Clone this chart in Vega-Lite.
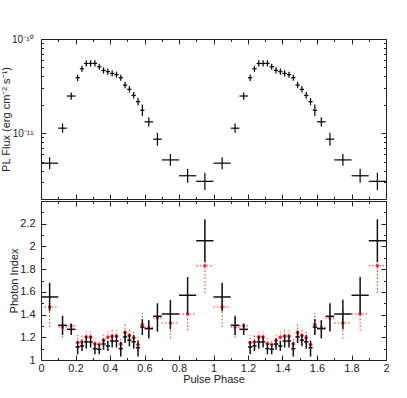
{
  "$schema": "https://vega.github.io/schema/vega-lite/v6.json",
  "padding": {"left": 0, "top": 33, "right": 20, "bottom": 0},
  "spacing": 0,
  "config": {
    "font": "Liberation Sans",
    "view": {"stroke": "#222", "strokeWidth": 1},
    "axis": {"domain": false, "grid": false, "tickColor": "#222", "labelColor": "#222", "labelFontSize": 11, "titleFontSize": 11, "titleFontWeight": "normal", "titleColor": "#222", "tickWidth": 1}
  },
  "datasets": {
    "bins": [
      {"p":0.05,"pl":0,"ph":0.1,"f":4.8e-12,"fl":4.15e-12,"fh":5.55e-12,"k":1.555,"kl":1.43,"kh":1.68,"r":1.467,"rl":1.29,"rh":1.62},
      {"p":0.125,"pl":0.1,"ph":0.15,"f":1.13e-11,"fl":1.01e-11,"fh":1.27e-11,"k":1.306,"kl":1.22,"kh":1.39,"r":1.29,"rl":1.2,"rh":1.38},
      {"p":0.175,"pl":0.15,"ph":0.2,"f":2.48e-11,"fl":2.27e-11,"fh":2.71e-11,"k":1.27,"kl":1.22,"kh":1.32,"r":1.3,"rl":1.25,"rh":1.34},
      {"p":0.2125,"pl":0.2,"ph":0.225,"f":3.88e-11,"fl":3.58e-11,"fh":4.2e-11,"k":1.115,"kl":1.05,"kh":1.17,"r":1.153,"rl":1.09,"rh":1.22},
      {"p":0.2375,"pl":0.225,"ph":0.25,"f":4.83e-11,"fl":4.48e-11,"fh":5.2e-11,"k":1.124,"kl":1.08,"kh":1.17,"r":1.16,"rl":1.11,"rh":1.22},
      {"p":0.2625,"pl":0.25,"ph":0.275,"f":5.5e-11,"fl":5.1e-11,"fh":5.93e-11,"k":1.159,"kl":1.1,"kh":1.21,"r":1.203,"rl":1.15,"rh":1.25},
      {"p":0.2875,"pl":0.275,"ph":0.3,"f":5.5e-11,"fl":5.1e-11,"fh":5.93e-11,"k":1.159,"kl":1.11,"kh":1.21,"r":1.203,"rl":1.15,"rh":1.25},
      {"p":0.3125,"pl":0.3,"ph":0.325,"f":5.52e-11,"fl":5.12e-11,"fh":5.95e-11,"k":1.1,"kl":1.05,"kh":1.15,"r":1.144,"rl":1.09,"rh":1.19},
      {"p":0.3375,"pl":0.325,"ph":0.35,"f":5.08e-11,"fl":4.71e-11,"fh":5.47e-11,"k":1.094,"kl":1.05,"kh":1.14,"r":1.136,"rl":1.09,"rh":1.18},
      {"p":0.3625,"pl":0.35,"ph":0.375,"f":4.64e-11,"fl":4.3e-11,"fh":5.0e-11,"k":1.141,"kl":1.09,"kh":1.19,"r":1.173,"rl":1.12,"rh":1.22},
      {"p":0.3875,"pl":0.375,"ph":0.4,"f":4.5e-11,"fl":4.17e-11,"fh":4.85e-11,"k":1.124,"kl":1.08,"kh":1.17,"r":1.2,"rl":1.15,"rh":1.25},
      {"p":0.4125,"pl":0.4,"ph":0.425,"f":4.31e-11,"fl":4.0e-11,"fh":4.65e-11,"k":1.167,"kl":1.11,"kh":1.22,"r":1.21,"rl":1.16,"rh":1.28},
      {"p":0.4375,"pl":0.425,"ph":0.45,"f":4.18e-11,"fl":3.88e-11,"fh":4.5e-11,"k":1.167,"kl":1.11,"kh":1.22,"r":1.21,"rl":1.16,"rh":1.26},
      {"p":0.4625,"pl":0.45,"ph":0.475,"f":3.88e-11,"fl":3.6e-11,"fh":4.18e-11,"k":1.1,"kl":1.03,"kh":1.16,"r":1.14,"rl":1.08,"rh":1.2},
      {"p":0.4875,"pl":0.475,"ph":0.5,"f":3.24e-11,"fl":3.0e-11,"fh":3.5e-11,"k":1.203,"kl":1.15,"kh":1.26,"r":1.24,"rl":1.18,"rh":1.33},
      {"p":0.5125,"pl":0.5,"ph":0.525,"f":2.92e-11,"fl":2.7e-11,"fh":3.16e-11,"k":1.175,"kl":1.12,"kh":1.23,"r":1.215,"rl":1.16,"rh":1.27},
      {"p":0.5375,"pl":0.525,"ph":0.55,"f":2.52e-11,"fl":2.33e-11,"fh":2.73e-11,"k":1.16,"kl":1.1,"kh":1.22,"r":1.195,"rl":1.14,"rh":1.25},
      {"p":0.5625,"pl":0.55,"ph":0.575,"f":2.16e-11,"fl":1.98e-11,"fh":2.36e-11,"k":1.108,"kl":1.03,"kh":1.17,"r":1.135,"rl":1.07,"rh":1.2},
      {"p":0.5875,"pl":0.575,"ph":0.6,"f":1.75e-11,"fl":1.52e-11,"fh":2.01e-11,"k":1.29,"kl":1.22,"kh":1.36,"r":1.31,"rl":1.22,"rh":1.41},
      {"p":0.625,"pl":0.6,"ph":0.65,"f":1.32e-11,"fl":1.18e-11,"fh":1.48e-11,"k":1.276,"kl":1.19,"kh":1.35,"r":1.285,"rl":1.21,"rh":1.36},
      {"p":0.675,"pl":0.65,"ph":0.7,"f":8.64e-12,"fl":7.35e-12,"fh":1.01e-11,"k":1.385,"kl":1.25,"kh":1.5,"r":1.37,"rl":1.26,"rh":1.48},
      {"p":0.75,"pl":0.7,"ph":0.8,"f":5.2e-12,"fl":4.5e-12,"fh":6.0e-12,"k":1.405,"kl":1.27,"kh":1.53,"r":1.326,"rl":1.19,"rh":1.45},
      {"p":0.85,"pl":0.8,"ph":0.9,"f":3.53e-12,"fl":2.98e-12,"fh":4.18e-12,"k":1.57,"kl":1.41,"kh":1.73,"r":1.405,"rl":1.26,"rh":1.55},
      {"p":0.95,"pl":0.9,"ph":1.0,"f":3.08e-12,"fl":2.49e-12,"fh":3.8e-12,"k":2.05,"kl":1.86,"kh":2.24,"r":1.83,"rl":1.59,"rh":2.05},
      {"p":1.05,"pl":1.0,"ph":1.1,"f":4.8e-12,"fl":4.15e-12,"fh":5.55e-12,"k":1.555,"kl":1.43,"kh":1.68,"r":1.467,"rl":1.29,"rh":1.62},
      {"p":1.125,"pl":1.1,"ph":1.15,"f":1.13e-11,"fl":1.01e-11,"fh":1.27e-11,"k":1.306,"kl":1.22,"kh":1.39,"r":1.29,"rl":1.2,"rh":1.38},
      {"p":1.175,"pl":1.15,"ph":1.2,"f":2.48e-11,"fl":2.27e-11,"fh":2.71e-11,"k":1.27,"kl":1.22,"kh":1.32,"r":1.3,"rl":1.25,"rh":1.34},
      {"p":1.2125,"pl":1.2,"ph":1.225,"f":3.88e-11,"fl":3.58e-11,"fh":4.2e-11,"k":1.115,"kl":1.05,"kh":1.17,"r":1.153,"rl":1.09,"rh":1.22},
      {"p":1.2375,"pl":1.225,"ph":1.25,"f":4.83e-11,"fl":4.48e-11,"fh":5.2e-11,"k":1.124,"kl":1.08,"kh":1.17,"r":1.16,"rl":1.11,"rh":1.22},
      {"p":1.2625,"pl":1.25,"ph":1.275,"f":5.5e-11,"fl":5.1e-11,"fh":5.93e-11,"k":1.159,"kl":1.1,"kh":1.21,"r":1.203,"rl":1.15,"rh":1.25},
      {"p":1.2875,"pl":1.275,"ph":1.3,"f":5.5e-11,"fl":5.1e-11,"fh":5.93e-11,"k":1.159,"kl":1.11,"kh":1.21,"r":1.203,"rl":1.15,"rh":1.25},
      {"p":1.3125,"pl":1.3,"ph":1.325,"f":5.52e-11,"fl":5.12e-11,"fh":5.95e-11,"k":1.1,"kl":1.05,"kh":1.15,"r":1.144,"rl":1.09,"rh":1.19},
      {"p":1.3375,"pl":1.325,"ph":1.35,"f":5.08e-11,"fl":4.71e-11,"fh":5.47e-11,"k":1.094,"kl":1.05,"kh":1.14,"r":1.136,"rl":1.09,"rh":1.18},
      {"p":1.3625,"pl":1.35,"ph":1.375,"f":4.64e-11,"fl":4.3e-11,"fh":5.0e-11,"k":1.141,"kl":1.09,"kh":1.19,"r":1.173,"rl":1.12,"rh":1.22},
      {"p":1.3875,"pl":1.375,"ph":1.4,"f":4.5e-11,"fl":4.17e-11,"fh":4.85e-11,"k":1.124,"kl":1.08,"kh":1.17,"r":1.2,"rl":1.15,"rh":1.25},
      {"p":1.4125,"pl":1.4,"ph":1.425,"f":4.31e-11,"fl":4.0e-11,"fh":4.65e-11,"k":1.167,"kl":1.11,"kh":1.22,"r":1.21,"rl":1.16,"rh":1.28},
      {"p":1.4375,"pl":1.425,"ph":1.45,"f":4.18e-11,"fl":3.88e-11,"fh":4.5e-11,"k":1.167,"kl":1.11,"kh":1.22,"r":1.21,"rl":1.16,"rh":1.26},
      {"p":1.4625,"pl":1.45,"ph":1.475,"f":3.88e-11,"fl":3.6e-11,"fh":4.18e-11,"k":1.1,"kl":1.03,"kh":1.16,"r":1.14,"rl":1.08,"rh":1.2},
      {"p":1.4875,"pl":1.475,"ph":1.5,"f":3.24e-11,"fl":3.0e-11,"fh":3.5e-11,"k":1.203,"kl":1.15,"kh":1.26,"r":1.24,"rl":1.18,"rh":1.33},
      {"p":1.5125,"pl":1.5,"ph":1.525,"f":2.92e-11,"fl":2.7e-11,"fh":3.16e-11,"k":1.175,"kl":1.12,"kh":1.23,"r":1.215,"rl":1.16,"rh":1.27},
      {"p":1.5375,"pl":1.525,"ph":1.55,"f":2.52e-11,"fl":2.33e-11,"fh":2.73e-11,"k":1.16,"kl":1.1,"kh":1.22,"r":1.195,"rl":1.14,"rh":1.25},
      {"p":1.5625,"pl":1.55,"ph":1.575,"f":2.16e-11,"fl":1.98e-11,"fh":2.36e-11,"k":1.108,"kl":1.03,"kh":1.17,"r":1.135,"rl":1.07,"rh":1.2},
      {"p":1.5875,"pl":1.575,"ph":1.6,"f":1.75e-11,"fl":1.52e-11,"fh":2.01e-11,"k":1.29,"kl":1.22,"kh":1.36,"r":1.31,"rl":1.22,"rh":1.41},
      {"p":1.625,"pl":1.6,"ph":1.65,"f":1.32e-11,"fl":1.18e-11,"fh":1.48e-11,"k":1.276,"kl":1.19,"kh":1.35,"r":1.285,"rl":1.21,"rh":1.36},
      {"p":1.675,"pl":1.65,"ph":1.7,"f":8.64e-12,"fl":7.35e-12,"fh":1.01e-11,"k":1.385,"kl":1.25,"kh":1.5,"r":1.37,"rl":1.26,"rh":1.48},
      {"p":1.75,"pl":1.7,"ph":1.8,"f":5.2e-12,"fl":4.5e-12,"fh":6.0e-12,"k":1.405,"kl":1.27,"kh":1.53,"r":1.326,"rl":1.19,"rh":1.45},
      {"p":1.85,"pl":1.8,"ph":1.9,"f":3.53e-12,"fl":2.98e-12,"fh":4.18e-12,"k":1.57,"kl":1.41,"kh":1.73,"r":1.405,"rl":1.26,"rh":1.55},
      {"p":1.95,"pl":1.9,"ph":2.0,"f":3.08e-12,"fl":2.49e-12,"fh":3.8e-12,"k":2.05,"kl":1.86,"kh":2.24,"r":1.83,"rl":1.59,"rh":2.05}
    ]
  },
  "vconcat": [
    {
      "width": 345,
      "height": 160,
      "data": {"name": "bins"},
      "layer": [
        {
          "mark": {"type": "rule", "color": "#000", "strokeWidth": 1.2},
          "encoding": {
            "x": {"field": "p", "type": "quantitative", "scale": {"domain": [0, 2], "nice": false, "zero": false},
                  "axis": {"orient": "bottom", "values": [0,0.2,0.4,0.6,0.8,1,1.2,1.4,1.6,1.8,2], "tickSize": -5, "labels": false, "title": null}},
            "y": {"field": "fl", "type": "quantitative", "scale": {"type": "log", "domain": [2e-12, 1e-10], "nice": false},
                  "axis": {"orient": "left", "values": [1e-11, 1e-10], "tickSize": -5, "labelPadding": 13, "labelFontSize": 10, "labelExpr": "datum.value > 5e-11 ? '10⁻¹⁰' : '10⁻¹¹'", "title": "PL Flux (erg cm⁻² s⁻¹)", "titlePadding": 0}},
            "y2": {"field": "fh"}
          }
        },
        {
          "mark": {"type": "rule", "color": "#000", "strokeWidth": 1.2},
          "encoding": {
            "x": {"field": "pl", "type": "quantitative", "scale": {"domain": [0, 2], "nice": false, "zero": false},
                  "axis": {"orient": "top", "values": [0,0.2,0.4,0.6,0.8,1,1.2,1.4,1.6,1.8,2], "tickSize": -5, "labels": false, "title": null}},
            "x2": {"field": "ph"},
            "y": {"field": "f", "type": "quantitative", "scale": {"type": "log", "domain": [2e-12, 1e-10], "nice": false},
                  "axis": {"orient": "right", "values": [1e-11, 1e-10], "tickSize": -5, "labels": false, "title": null}}
          }
        },
        {
          "mark": {"type": "point", "opacity": 0},
          "encoding": {
            "x": {"field": "p", "type": "quantitative", "scale": {"domain": [0, 2], "nice": false, "zero": false},
                  "axis": {"orient": "bottom", "values": [0.1,0.3,0.5,0.7,0.9,1.1,1.3,1.5,1.7,1.9], "tickSize": -2.5, "labels": false, "title": null}},
            "y": {"field": "f", "type": "quantitative", "scale": {"type": "log", "domain": [2e-12, 1e-10], "nice": false},
                  "axis": {"orient": "left", "values": [3e-12,4e-12,5e-12,6e-12,7e-12,8e-12,9e-12,2e-11,3e-11,4e-11,5e-11,6e-11,7e-11,8e-11,9e-11], "tickSize": -2.5, "labels": false, "title": null}}
          }
        },
        {
          "mark": {"type": "point", "opacity": 0},
          "encoding": {
            "x": {"field": "p", "type": "quantitative", "scale": {"domain": [0, 2], "nice": false, "zero": false},
                  "axis": {"orient": "top", "values": [0.1,0.3,0.5,0.7,0.9,1.1,1.3,1.5,1.7,1.9], "tickSize": -2.5, "labels": false, "title": null}},
            "y": {"field": "f", "type": "quantitative", "scale": {"type": "log", "domain": [2e-12, 1e-10], "nice": false},
                  "axis": {"orient": "right", "values": [3e-12,4e-12,5e-12,6e-12,7e-12,8e-12,9e-12,2e-11,3e-11,4e-11,5e-11,6e-11,7e-11,8e-11,9e-11], "tickSize": -2.5, "labels": false, "title": null}}
          }
        }
      ],
      "resolve": {"axis": {"x": "independent", "y": "independent"}}
    },
    {
      "width": 345,
      "height": 159,
      "data": {"name": "bins"},
      "layer": [
        {
          "mark": {"type": "rule", "color": "#ff2020", "strokeWidth": 1, "strokeDash": [1.5, 2]},
          "encoding": {
            "x": {"field": "p", "type": "quantitative", "scale": {"domain": [0, 2], "nice": false, "zero": false}, "axis": null},
            "y": {"field": "rl", "type": "quantitative", "scale": {"domain": [1, 2.4], "nice": false, "zero": false}, "axis": null},
            "y2": {"field": "rh"}
          }
        },
        {
          "mark": {"type": "rule", "color": "#ff2020", "strokeWidth": 1, "strokeDash": [1.5, 2]},
          "encoding": {
            "x": {"field": "pl", "type": "quantitative", "scale": {"domain": [0, 2], "nice": false, "zero": false}, "axis": null},
            "x2": {"field": "ph"},
            "y": {"field": "r", "type": "quantitative", "scale": {"domain": [1, 2.4], "nice": false, "zero": false}, "axis": null}
          }
        },
        {
          "mark": {"type": "square", "color": "#ff2020", "filled": true, "size": 8, "opacity": 1},
          "encoding": {
            "x": {"field": "p", "type": "quantitative", "scale": {"domain": [0, 2], "nice": false, "zero": false}, "axis": null},
            "y": {"field": "r", "type": "quantitative", "scale": {"domain": [1, 2.4], "nice": false, "zero": false}, "axis": null}
          }
        },
        {
          "mark": {"type": "rule", "color": "#111", "strokeWidth": 1.5},
          "encoding": {
            "x": {"field": "p", "type": "quantitative", "scale": {"domain": [0, 2], "nice": false, "zero": false},
                  "axis": {"orient": "bottom", "values": [0,0.2,0.4,0.6,0.8,1,1.2,1.4,1.6,1.8,2], "tickSize": -5, "labelPadding": 7, "format": "~g", "labelFlush": false, "title": "Pulse Phase", "titlePadding": 0}},
            "y": {"field": "kl", "type": "quantitative", "scale": {"domain": [1, 2.4], "nice": false, "zero": false},
                  "axis": {"orient": "left", "values": [1,1.2,1.4,1.6,1.8,2,2.2], "tickSize": -5, "labelPadding": 11, "format": "~g", "title": "Photon Index", "titlePadding": 0}},
            "y2": {"field": "kh"}
          }
        },
        {
          "mark": {"type": "rule", "color": "#111", "strokeWidth": 1.5},
          "encoding": {
            "x": {"field": "pl", "type": "quantitative", "scale": {"domain": [0, 2], "nice": false, "zero": false},
                  "axis": {"orient": "top", "values": [0,0.2,0.4,0.6,0.8,1,1.2,1.4,1.6,1.8,2], "tickSize": -5, "labels": false, "title": null}},
            "x2": {"field": "ph"},
            "y": {"field": "k", "type": "quantitative", "scale": {"domain": [1, 2.4], "nice": false, "zero": false},
                  "axis": {"orient": "right", "values": [1,1.2,1.4,1.6,1.8,2,2.2], "tickSize": -5, "labels": false, "title": null}}
          }
        },
        {
          "mark": {"type": "point", "opacity": 0},
          "encoding": {
            "x": {"field": "p", "type": "quantitative", "scale": {"domain": [0, 2], "nice": false, "zero": false},
                  "axis": {"orient": "bottom", "values": [0.1,0.3,0.5,0.7,0.9,1.1,1.3,1.5,1.7,1.9], "tickSize": -2.5, "labels": false, "title": null}},
            "y": {"field": "k", "type": "quantitative", "scale": {"domain": [1, 2.4], "nice": false, "zero": false},
                  "axis": {"orient": "left", "values": [1.1,1.3,1.5,1.7,1.9,2.1,2.3], "tickSize": -2.5, "labels": false, "title": null}}
          }
        },
        {
          "mark": {"type": "point", "opacity": 0},
          "encoding": {
            "x": {"field": "p", "type": "quantitative", "scale": {"domain": [0, 2], "nice": false, "zero": false},
                  "axis": {"orient": "top", "values": [0.1,0.3,0.5,0.7,0.9,1.1,1.3,1.5,1.7,1.9], "tickSize": -2.5, "labels": false, "title": null}},
            "y": {"field": "k", "type": "quantitative", "scale": {"domain": [1, 2.4], "nice": false, "zero": false},
                  "axis": {"orient": "right", "values": [1.1,1.3,1.5,1.7,1.9,2.1,2.3], "tickSize": -2.5, "labels": false, "title": null}}
          }
        }
      ],
      "resolve": {"axis": {"x": "independent", "y": "independent"}}
    }
  ]
}
